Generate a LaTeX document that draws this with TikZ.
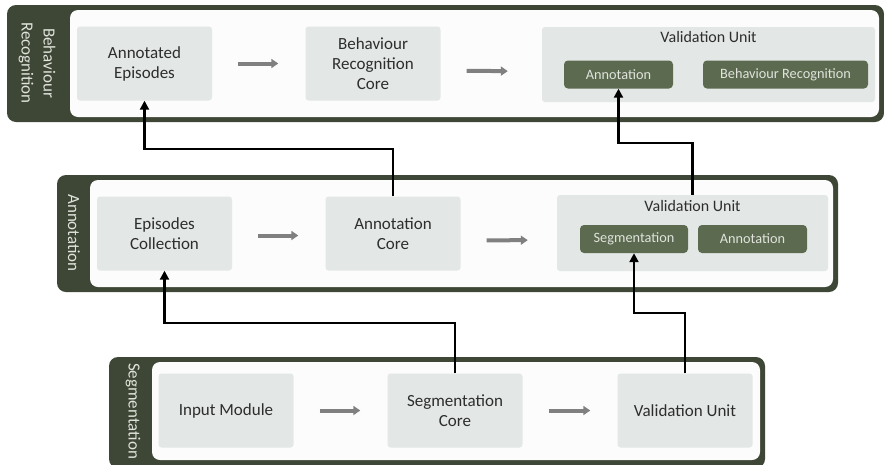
\documentclass[tikz,border=0pt]{standalone}
\usepackage{fontspec}
\setmainfont{Carlito}
\usetikzlibrary{arrows.meta,positioning}

\definecolor{panelgreen}{RGB}{62,70,54}
\definecolor{btngreen}{RGB}{92,106,80}
\definecolor{boxgray}{RGB}{227,231,229}
\definecolor{paper}{RGB}{251,252,251}
\definecolor{flowgray}{RGB}{128,128,128}
\definecolor{tiertext}{RGB}{224,228,220}
\definecolor{inktext}{RGB}{45,45,45}

\tikzset{
  block/.style={fill=boxgray, rounded corners=3pt, minimum width=135pt, minimum height=74pt,
    align=center, inner sep=2pt, text=inktext, font=\fontsize{17}{20}\selectfont},
  unitbox/.style={fill=boxgray, rounded corners=3pt},
  vutitle/.style={inner sep=0pt, text=inktext, font=\fontsize{16}{19}\selectfont},
  btn/.style={fill=btngreen, rounded corners=4pt, minimum height=28pt, inner sep=2pt,
    text=tiertext, font=\fontsize{14.3}{17}\selectfont},
  tier/.style={text=tiertext, rotate=-90, align=center, inner sep=0pt,
    font=\fontsize{17}{22}\selectfont},
  flow/.style={draw=flowgray, line width=4pt, -{Triangle[length=7pt,width=9pt]},
    shorten <=26pt, shorten >=27pt},
  link/.style={draw=black, line width=2.2pt, -{Triangle[length=9pt,width=9pt]}},
}

\begin{document}
\begin{tikzpicture}[x=1pt,y=-1pt]
  \useasboundingbox (0,0) rectangle (884,464);

  % panels
  \fill[panelgreen, rounded corners=9pt] (7,5) rectangle (884,122);
  \fill[paper, rounded corners=8pt] (70,10) rectangle (879,117);
  \fill[panelgreen, rounded corners=9pt] (57,175) rectangle (838,292);
  \fill[paper, rounded corners=8pt] (90,180) rectangle (833,287);
  \fill[panelgreen, rounded corners=9pt] (109,357) rectangle (765,468);
  \fill[paper, rounded corners=8pt] (152,362) rectangle (760,460);

  \node[tier] (brtier)  at (37,63)   {Behaviour\\Recognition};
  \node[tier] (antier)  at (74,233)  {Annotation};
  \node[tier] (segtier) at (133,411) {Segmentation};

  % behaviour recognition
  \node[block] (ae)  at (144.5,63.5) {Annotated\\Episodes};
  \node[block] (brc) at (373,63.5)   {Behaviour\\Recognition\\Core};
  \node[unitbox, minimum width=333pt, minimum height=75pt] (vu3) at (708.5,64.5) {};
  \node[vutitle, below=4pt of vu3.north] (vu3t) {Validation Unit};
  \node[btn, minimum width=109pt] (an3) at (618.5,74.5) {Annotation};
  \node[btn, minimum width=165pt] (br3) at (785.5,74.5) {Behaviour Recognition};

  % annotation
  \node[block] (ec) at (164.5,233.5) {Episodes\\Collection};
  \node[block] (ac) at (393,233.5)   {Annotation\\Core};
  \node[unitbox, minimum width=271pt, minimum height=76pt] (vu2) at (692.5,233) {};
  \node[vutitle, below=5pt of vu2.north] (vu2t) {Validation Unit};
  \node[btn, minimum width=108pt] (sg2) at (634,239)   {Segmentation};
  \node[btn, minimum width=109pt] (an2) at (752.5,239) {Annotation};

  % segmentation
  \node[block] (im)  at (226,410.5) {Input Module};
  \node[block] (sc)  at (455,410.5) {Segmentation\\Core};
  \node[block] (vu1) at (685,410.5) {Validation Unit};

  \draw[flow] (ae) -- (brc);
  \draw[flow, shorten >=34pt] ([yshift=-7pt]brc.east) -- ([yshift=-7pt]vu3.west);
  \draw[flow] ([yshift=-2pt]ec.east) -- ([yshift=-2pt]ac.west);
  \draw[flow, shorten >=29pt] ([yshift=-7pt]ac.east) -- ([yshift=-7pt]vu2.west);
  \draw[flow] (im) -- (sc);
  \draw[flow] (sc) -- (vu1);

  \draw[link] (sc.north) -- ++(0,-50) -| (ec.south);
  \draw[link] (vu1.north) -- ++(0,-60) -| (sg2.south);
  \draw[link] (ac.north) -- ++(0,-47) -| (ae.south);
  \draw[link] (vu2.north) -- ++(0,-52) -| (an3.south);
\end{tikzpicture}
\end{document}
